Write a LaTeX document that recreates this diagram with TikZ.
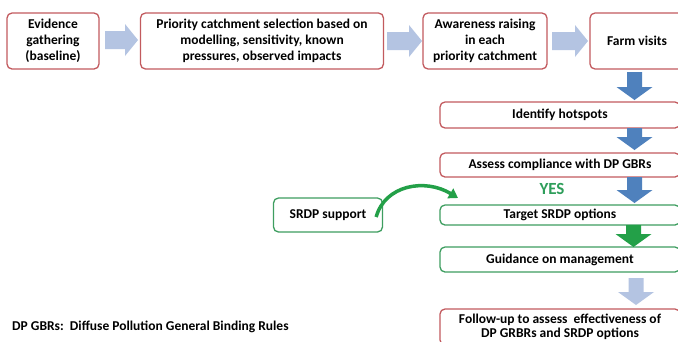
\documentclass[tikz,border=0pt]{standalone}
\usepackage{fontspec}
\setmainfont{Carlito}
\usetikzlibrary{arrows.meta}
\definecolor{redb}{HTML}{C25A5E}
\definecolor{greenb}{HTML}{3E9E60}
\definecolor{bluea}{HTML}{4F81BD}
\definecolor{lbluea}{HTML}{B4C4E2}
\definecolor{greena}{HTML}{23A048}
\definecolor{yesg}{HTML}{2E9E5A}
\newcommand\rarr[4]{% x start, x tip, y centre, colour
  \fill[#4] (#1,#3-9) -- (#2-13,#3-9) -- (#2-13,#3-16) -- (#2,#3) -- (#2-13,#3+16) -- (#2-13,#3+9) -- (#1,#3+9) -- cycle;}
\newcommand\darr[4]{% x centre, y top, y tip, colour
  \fill[#4] (#1-7.5,#2) -- (#1+7.5,#2) -- (#1+7.5,#3-13) -- (#1+18,#3-13) -- (#1,#3) -- (#1-18,#3-13) -- (#1-7.5,#3-13) -- cycle;}
\tikzset{
  boxbase/.style={draw, line width=1.3pt, rounded corners=5pt, fill=white, align=center,
    inner sep=1pt, font=\bfseries\fontsize{13.5}{16}\selectfont},
  redbox/.style={boxbase, draw=redb},
  greenbox/.style={boxbase, draw=greenb},
}
\begin{document}
\begin{tikzpicture}[x=1pt,y=-1pt]
\useasboundingbox (0,0) rectangle (678,341);
\clip (0,0) rectangle (678,341);
\fill[white] (0,0) rectangle (678,341);
% top row
\node[redbox, minimum width=92, minimum height=56] (ev) at (53,41) {Evidence\\gathering\\(baseline)};
\node[redbox, minimum width=243, minimum height=56] (pr) at (262,41) {Priority catchment selection based on\\modelling, sensitivity, known\\pressures, observed impacts};
\node[redbox, minimum width=124, minimum height=56] (aw) at (485,41) {Awareness raising\\in each\\priority catchment};
\node[redbox, minimum width=94, minimum height=56] (fv) at (637,41) {Farm visits};
% column
\node[redbox, minimum width=240, minimum height=26] (hot) at (560,115) {Identify hotspots};
\node[redbox, minimum width=240, minimum height=24] (as) at (560,165) {Assess compliance with DP GBRs};
\node[greenbox, minimum width=240, minimum height=20, inner sep=0pt] (tg) at (560,215) {Target SRDP options};
\node[greenbox, minimum width=240, minimum height=25] (gd) at (560,259.5) {Guidance on management};
\node[redbox, minimum width=240, minimum height=36, font=\bfseries\fontsize{13.5}{14}\selectfont] (fu) at (560,327) {Follow-up to assess\ \ effectiveness of\\DP GRBRs and SRDP options};
\node[greenbox, minimum width=109, minimum height=34] (sr) at (328,215) {SRDP support};
% horizontal block arrows
\rarr{105}{138}{40}{lbluea}
\rarr{387}{422}{41}{lbluea}
\rarr{552}{588}{41}{lbluea}
% vertical block arrows
\darr{634.5}{72}{100}{bluea}
\darr{634.5}{128}{150}{bluea}
\darr{634.5}{177}{203}{bluea}
\darr{633.5}{225}{247}{greena}
\darr{636}{278}{305}{lbluea}
% YES
\node[font=\bfseries\fontsize{17}{18}\selectfont, text=yesg] (yes) at (552,189) {YES};
% curved arrow
\coordinate (ctip) at (458,198);
\draw[greena, line width=3.5pt, -{Triangle[length=9pt,width=11pt]}] ([xshift=-7pt,yshift=-2pt]sr.east) .. controls (385,185) and (425,178) .. (ctip);
% legend
\node[anchor=west, font=\bfseries\fontsize{13.5}{15}\selectfont, inner sep=0pt] (leg) at (12,327) {DP GBRs:\ \ Diffuse Pollution General Binding Rules};
\end{tikzpicture}
\end{document}
